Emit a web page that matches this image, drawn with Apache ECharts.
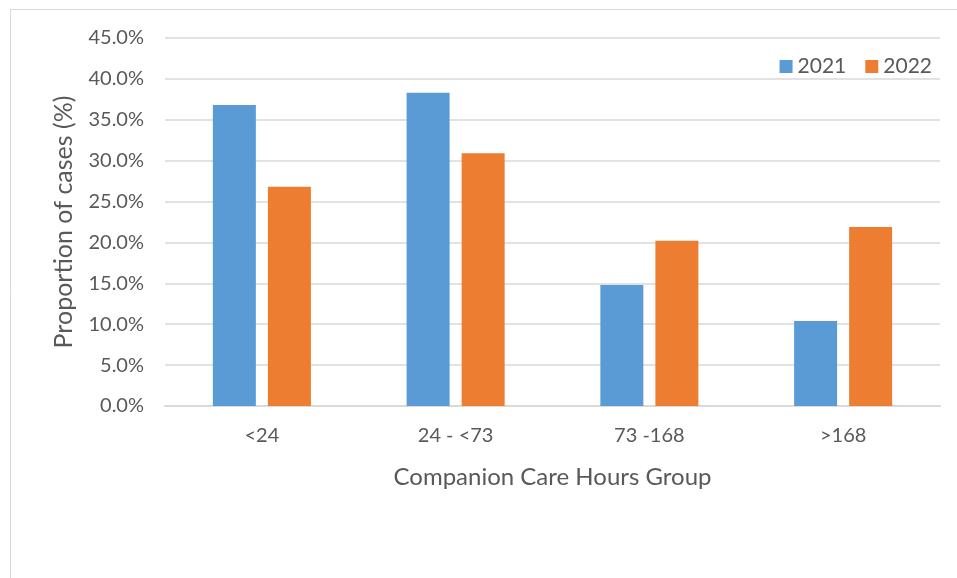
<!DOCTYPE html>
<html>
  <head>
    <meta charset="utf-8" />
    <title>Companion Care Hours</title>
    <script src="https://cdn.jsdelivr.net/npm/echarts@6/dist/echarts.min.js"></script>
    <style>
      html, body { margin: 0; padding: 0; background: #fff; }
    </style>
  </head>
  <body>
    <div id="main" style="width: 957px;height: 578px;"></div>
    <script type="text/javascript">
      var categories = ['<24', '24 - <73', '73 -168', '>168']
      var values2021 = [36.8, 38.3, 14.8, 10.4]
      var values2022 = [26.8, 30.9, 20.2, 21.9]
      var seriesNames = ['2021', '2022']

      var textColor = '#595959'
      var fontFamily = 'Lato, "Open Sans", sans-serif'
      var myChart = echarts.init(document.getElementById('main'));

      var option = {
        animation: false,
        textStyle: { fontFamily: fontFamily, color: textColor },
        // frame of the chart area (only top and left edge show in the picture)
        graphic: [
          { type: 'line', shape: { x1: 10, y1: 9.5, x2: 957, y2: 9.5 }, style: { stroke: '#d9d9d9', lineWidth: 1 } },
          { type: 'line', shape: { x1: 10.5, y1: 9, x2: 10.5, y2: 578 }, style: { stroke: '#d9d9d9', lineWidth: 1 } }
        ],
        legend: {
          data: seriesNames,
          right: 20,
          top: 51,
          itemWidth: 13,
          itemHeight: 13,
          itemGap: 19,
          icon: 'rect',
          textStyle: { fontSize: 21, color: textColor, fontFamily: fontFamily }
        },
        grid: {
          left: 165,
          right: 17,
          top: 38,
          bottom: 172
        },
        xAxis: {
          type: 'category',
          data: categories,
          name: 'Companion Care Hours Group',
          nameLocation: 'middle',
          nameGap: 59,
          nameTextStyle: { fontSize: 24, color: textColor },
          axisLine: { lineStyle: { color: '#d9d9d9', width: 2 } },
          axisTick: { show: false },
          axisLabel: { fontSize: 20, color: textColor, margin: 20 }
        },
        yAxis: {
          type: 'value',
          min: 0,
          max: 45,
          interval: 5,
          name: 'Proportion of cases (%)',
          nameLocation: 'middle',
          nameGap: 89,
          nameRotate: 90,
          nameTextStyle: { fontSize: 25, color: textColor },
          axisLine: { show: false },
          axisTick: { show: false },
          axisLabel: {
            fontSize: 20,
            color: textColor,
            margin: 21,
            formatter: function (v) { return v.toFixed(1) + '%' }
          },
          splitLine: { lineStyle: { color: '#d9d9d9', width: 1.5 } }
        },
        series: [
          {
            name: seriesNames[0],
            type: 'bar',
            data: values2021,
            barWidth: 43,
            barGap: '28%',
            itemStyle: { color: '#5b9bd5' }
          },
          {
            name: seriesNames[1],
            type: 'bar',
            data: values2022,
            barWidth: 43,
            itemStyle: { color: '#ed7d31' }
          }
        ]
      };
      myChart.setOption(option);
    </script>
  </body>
</html>
